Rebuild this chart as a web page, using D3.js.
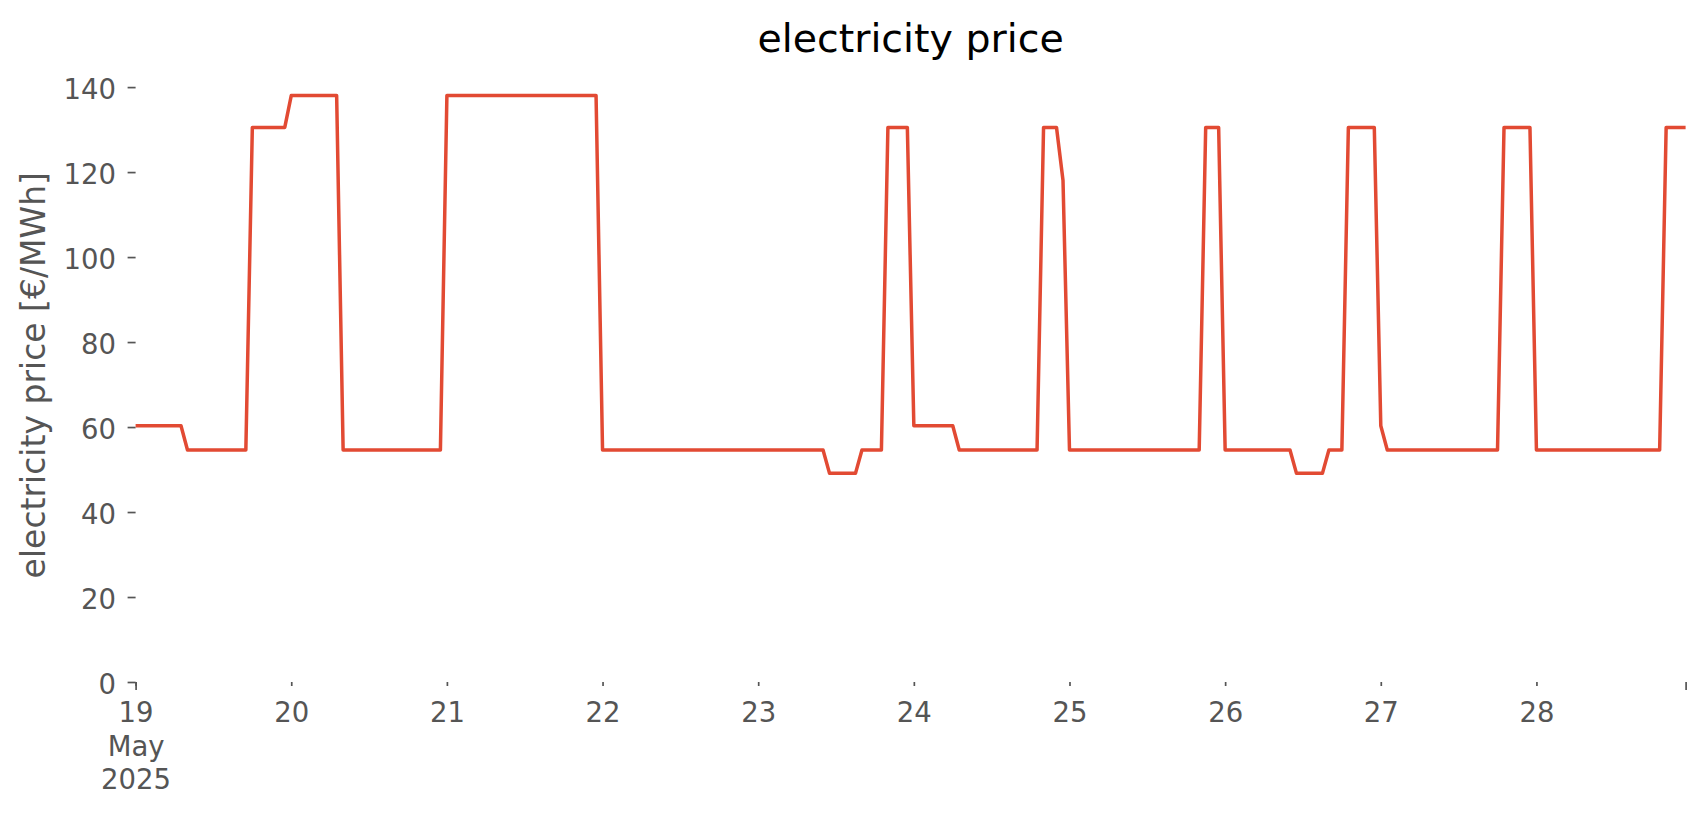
<!DOCTYPE html>
<html>
<head>
<meta charset="utf-8">
<script src="https://cdn.jsdelivr.net/npm/d3@7"></script>
<style>
  body { margin: 0; background: #fff; }
  svg { display: block; }
  text { font-family: "DejaVu Sans", sans-serif; }
</style>
</head>
<body>
<svg id="chart" width="1706" height="815"></svg>
<script>
// ---- data (hourly electricity price, €/MWh) ----
const startDate = "2025-05-19T00:00:00Z";
const priceMay19 = [60.3,60.3,60.3,60.3,60.3,60.3,60.3,60.3, 54.6,54.6,54.6,54.6,54.6,54.6,54.6,54.6, 54.6,54.6,130.5,130.5,130.5,130.5,130.5,130.5];
const priceMay20 = [138,138,138,138,138,138,138,138, 54.6,54.6,54.6,54.6,54.6,54.6,54.6,54.6, 54.6,54.6,54.6,54.6,54.6,54.6,54.6,54.6];
const priceMay21 = [138,138,138,138,138,138,138,138, 138,138,138,138,138,138,138,138, 138,138,138,138,138,138,138,138];
const priceMay22 = [54.6,54.6,54.6,54.6,54.6,54.6,54.6,54.6, 54.6,54.6,54.6,54.6,54.6,54.6,54.6,54.6, 54.6,54.6,54.6,54.6,54.6,54.6,54.6,54.6];
const priceMay23 = [54.6,54.6,54.6,54.6,54.6,54.6,54.6,54.6, 54.6,54.6,54.6,49.1,49.1,49.1,49.1,49.1, 54.6,54.6,54.6,54.6,130.5,130.5,130.5,130.5];
const priceMay24 = [60.3,60.3,60.3,60.3,60.3,60.3,60.3,54.6, 54.6,54.6,54.6,54.6,54.6,54.6,54.6,54.6, 54.6,54.6,54.6,54.6,130.5,130.5,130.5,118];
const priceMay25 = [54.6,54.6,54.6,54.6,54.6,54.6,54.6,54.6, 54.6,54.6,54.6,54.6,54.6,54.6,54.6,54.6, 54.6,54.6,54.6,54.6,54.6,130.5,130.5,130.5];
const priceMay26 = [54.6,54.6,54.6,54.6,54.6,54.6,54.6,54.6, 54.6,54.6,54.6,49.1,49.1,49.1,49.1,49.1, 54.6,54.6,54.6,130.5,130.5,130.5,130.5,130.5];
const priceMay27 = [60.3,54.6,54.6,54.6,54.6,54.6,54.6,54.6, 54.6,54.6,54.6,54.6,54.6,54.6,54.6,54.6, 54.6,54.6,54.6,130.5,130.5,130.5,130.5,130.5];
const priceMay28 = [54.6,54.6,54.6,54.6,54.6,54.6,54.6,54.6, 54.6,54.6,54.6,54.6,54.6,54.6,54.6,54.6, 54.6,54.6,54.6,54.6,130.5,130.5,130.5,130.5];

const dayLabels = ["19","20","21","22","23","24","25","26","27","28"];
const firstLabelLines = ["19","May","2025"];
const yTickValues = [0,20,40,60,80,100,120,140];
const titleText = "electricity price";
const yLabelText = "electricity price [€/MWh]";

// ---- build ----
const price = [].concat(priceMay19, priceMay20, priceMay21, priceMay22, priceMay23,
                        priceMay24, priceMay25, priceMay26, priceMay27, priceMay28);
const t0 = new Date(startDate);
const times = price.map((_, i) => d3.utcHour.offset(t0, i));
const tEnd = times[times.length - 1];

const svg = d3.select("#chart");
const plotLeft = 135.6, plotRight = 1685.6, plotBottom = 682, plotTop = 68.4;

const x = d3.scaleUtc().domain([t0, tEnd]).range([plotLeft, plotRight]);
const y = d3.scaleLinear().domain([0, 144.4]).range([plotBottom, plotTop]);

const tickColor = "#555555";

// x axis: day (minor) ticks with labels
const dayTicks = d3.utcDay.range(t0, d3.utcHour.offset(tEnd, 1));
const xAxis = svg.append("g")
  .attr("transform", `translate(0,${plotBottom})`)
  .call(d3.axisBottom(x).tickValues(dayTicks).tickSize(4)
        .tickFormat((d, i) => dayLabels[i]));
xAxis.select(".domain").remove();
xAxis.selectAll(".tick line").attr("stroke", tickColor).attr("stroke-width", 1.7);
xAxis.selectAll(".tick text")
  .attr("fill", tickColor)
  .attr("font-size", 27.5)
  .attr("font-family", "DejaVu Sans")
  .attr("y", 40).attr("dy", 0);
xAxis.selectAll(".tick text").filter((d, i) => i === 0)
  .text(null)
  .selectAll("tspan").data(firstLabelLines).join("tspan")
  .attr("x", 0)
  .attr("dy", (d, i) => i === 0 ? 0 : 33.5)
  .text(d => d);

// x axis: major ticks at the ends
const xMajor = svg.append("g")
  .attr("transform", `translate(0,${plotBottom})`)
  .call(d3.axisBottom(x).tickValues([t0, tEnd]).tickSize(8).tickFormat(() => ""));
xMajor.select(".domain").remove();
xMajor.selectAll(".tick line").attr("stroke", tickColor).attr("stroke-width", 1.7);

// y axis
const yAxis = svg.append("g")
  .attr("transform", `translate(${plotLeft},0)`)
  .call(d3.axisLeft(y).tickValues(yTickValues).tickSize(8).tickPadding(11.6));
yAxis.select(".domain").remove();
yAxis.selectAll(".tick line").attr("stroke", tickColor).attr("stroke-width", 1.7);
yAxis.selectAll(".tick text")
  .attr("fill", tickColor)
  .attr("font-size", 27.5)
  .attr("font-family", "DejaVu Sans")
  .attr("dy", "0.42em");

// line
svg.append("path")
  .datum(price)
  .attr("fill", "none")
  .attr("stroke", "#E24A33")
  .attr("stroke-width", 3.5)
  .attr("stroke-linejoin", "round")
  .attr("d", d3.line().x((d, i) => x(times[i])).y(d => y(d)));

// y label
svg.append("text")
  .attr("transform", `translate(45,${(plotTop + plotBottom) / 2}) rotate(-90)`)
  .attr("text-anchor", "middle")
  .attr("fill", tickColor)
  .attr("font-size", 33)
  .text(yLabelText);

// title
svg.append("text")
  .attr("x", (plotLeft + plotRight) / 2)
  .attr("y", 51.7)
  .attr("text-anchor", "middle")
  .attr("fill", "#000")
  .attr("font-size", 39.5)
  .text(titleText);
</script>
</body>
</html>
